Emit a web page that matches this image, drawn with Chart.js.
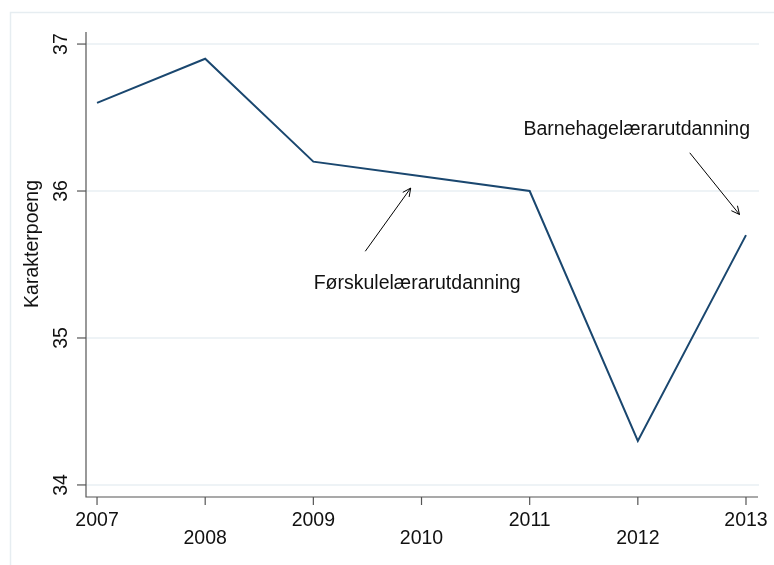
<!DOCTYPE html>
<html><head><meta charset="utf-8">
<script src="https://cdn.jsdelivr.net/npm/chart.js@4"></script>
<style>html,body{margin:0;padding:0;background:#fff}#wrap{width:774px;height:565px;position:relative}</style>
</head><body><div id="wrap"><canvas id="c" width="774" height="565"></canvas></div>
<script>
const years = [2007, 2008, 2009, 2010, 2011, 2012, 2013];
const karakterpoeng = [36.6, 36.9, 36.2, 36.1, 36.0, 34.3, 35.7];
const yTicks = [34, 35, 36, 37];
const xTickLabels = ['2007', '2008', '2009', '2010', '2011', '2012', '2013'];
const yTitle = 'Karakterpoeng';
const notes = [
  {text: 'Førskulelærarutdanning', tx: 2009.96, ty: 35.37, ax0: 2009.48, ay0: 35.59, ax1: 2009.9, ay1: 36.02},
  {text: 'Barnehagelærarutdanning', tx: 2011.99, ty: 36.42, ax0: 2012.48, ay0: 36.26, ax1: 2012.94, ay1: 35.84}
];
const FONT = '"Liberation Sans", Arial, sans-serif';

const deco = {
  id: 'deco',
  beforeDraw(chart) {
    const ctx = chart.ctx, x = chart.scales.x, y = chart.scales.y, a = chart.chartArea;
    ctx.save();
    ctx.strokeStyle = '#e6edf1'; ctx.lineWidth = 1.5;
    ctx.strokeRect(10.5, 12.5, 800, 600);
    ctx.strokeStyle = '#e8eff3'; ctx.lineWidth = 1.5;
    yTicks.forEach(v => { const py = y.getPixelForValue(v); ctx.beginPath(); ctx.moveTo(a.left, py); ctx.lineTo(a.right + 1, py); ctx.stroke(); });
    ctx.restore();
  },
  afterDraw(chart) {
    const ctx = chart.ctx, x = chart.scales.x, y = chart.scales.y, a = chart.chartArea;
    ctx.save();
    ctx.strokeStyle = '#555'; ctx.lineWidth = 1.2;
    ctx.beginPath(); ctx.moveTo(a.left, a.top); ctx.lineTo(a.left, a.bottom); ctx.lineTo(a.right, a.bottom); ctx.stroke();
    ctx.fillStyle = '#111'; ctx.font = '19.5px ' + FONT;
    yTicks.forEach(v => {
      const py = y.getPixelForValue(v);
      ctx.beginPath(); ctx.moveTo(a.left - 9, py); ctx.lineTo(a.left, py); ctx.stroke();
      ctx.save(); ctx.translate(a.left - 15, py); ctx.rotate(-Math.PI / 2);
      ctx.textAlign = 'center'; ctx.textBaseline = 'bottom'; ctx.fillText(String(v), 0, 0); ctx.restore();
    });
    years.forEach((yr, i) => {
      const px = x.getPixelForValue(yr);
      ctx.beginPath(); ctx.moveTo(px, a.bottom); ctx.lineTo(px, a.bottom + 8); ctx.stroke();
      ctx.textAlign = 'center'; ctx.textBaseline = 'middle';
      ctx.fillText(xTickLabels[i], px, a.bottom + (i % 2 === 0 ? 24 : 42));
    });
    ctx.save(); ctx.translate(33, y.getPixelForValue(35.64)); ctx.rotate(-Math.PI / 2);
    ctx.textAlign = 'center'; ctx.textBaseline = 'middle'; ctx.fillText(yTitle, 0, 0); ctx.restore();
    ctx.strokeStyle = '#000'; ctx.lineWidth = 1;
    notes.forEach(n => {
      ctx.textAlign = 'center'; ctx.textBaseline = 'middle';
      ctx.fillText(n.text, x.getPixelForValue(n.tx), y.getPixelForValue(n.ty));
      const x0 = x.getPixelForValue(n.ax0), y0 = y.getPixelForValue(n.ay0), x1 = x.getPixelForValue(n.ax1), y1 = y.getPixelForValue(n.ay1);
      ctx.beginPath(); ctx.moveTo(x0, y0); ctx.lineTo(x1, y1); ctx.stroke();
      const ang = Math.atan2(y1 - y0, x1 - x0), L = 9, w = 0.45;
      ctx.beginPath();
      ctx.moveTo(x1 - L * Math.cos(ang - w), y1 - L * Math.sin(ang - w));
      ctx.lineTo(x1, y1);
      ctx.lineTo(x1 - L * Math.cos(ang + w), y1 - L * Math.sin(ang + w));
      ctx.stroke();
    });
    ctx.restore();
  }
};

new Chart(document.getElementById('c'), {
  type: 'line',
  data: { datasets: [{ data: years.map((yr, i) => ({x: yr, y: karakterpoeng[i]})), borderColor: '#1a476f', borderWidth: 2, pointRadius: 0, tension: 0, fill: false }] },
  options: {
    responsive: false, animation: false, devicePixelRatio: 1,
    layout: { padding: { left: 86, right: 16, top: 32, bottom: 68 } },
    plugins: { legend: { display: false }, tooltip: { enabled: false } },
    scales: {
      x: { type: 'linear', display: false, min: 2006.898, max: 2013.111 },
      y: { type: 'linear', display: false, min: 33.918, max: 37.082 }
    }
  },
  plugins: [deco]
});
</script></body></html>
